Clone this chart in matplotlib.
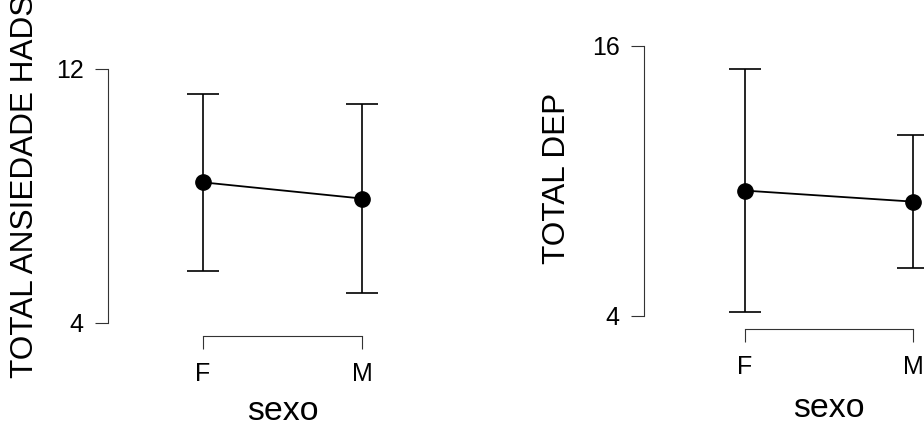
import matplotlib
matplotlib.use("Agg")
import matplotlib.pyplot as plt
from matplotlib import transforms

plt.rcParams['font.family'] = ['Liberation Sans', 'DejaVu Sans']

categories = ["F", "M"]
xlabel = "sexo"

# Panel 1: TOTAL ANSIEDADE HADS
anx_label = "TOTAL ANSIEDADE HADS"
anx_mean = [8.43, 7.92]
anx_lower = [5.65, 4.94]
anx_upper = [11.21, 10.89]
anx_yticks = [4, 12]

# Panel 2: TOTAL DEP
dep_label = "TOTAL DEP"
dep_mean = [9.56, 9.07]
dep_lower = [4.15, 6.10]
dep_upper = [14.96, 12.03]
dep_yticks = [4, 16]

W, H = 924, 424
fig = plt.figure(figsize=(W / 100, H / 100), dpi=100)
ident = transforms.IdentityTransform()


def panel(rect_px, xlim, ylim, means, lo, hi, yticks, ylab, ylab_pos, ylab_va, xlab_y):
    l, t, r, b = rect_px
    ax = fig.add_axes([l / W, (H - b) / H, (r - l) / W, (b - t) / H])
    x = list(range(len(categories)))
    yerr = [[m - a for m, a in zip(means, lo)], [c - m for m, c in zip(means, hi)]]
    ax.errorbar(x, means, yerr=yerr, fmt='none', ecolor='black', elinewidth=1.2,
                capsize=11.5, capthick=1.2, zorder=2)
    ax.plot(x, means, color='black', lw=1.3, marker='o', markersize=11,
            markerfacecolor='black', markeredgecolor='black', zorder=3)
    ax.set_xlim(*xlim)
    ax.set_ylim(*ylim)
    ax.set_xticks(x)
    ax.set_xticklabels(categories)
    ax.set_yticks(yticks)
    ax.set_yticklabels([str(v) for v in yticks])
    for s in ['top', 'right']:
        ax.spines[s].set_visible(False)
    ax.spines['left'].set_bounds(yticks[0], yticks[-1])
    ax.spines['bottom'].set_bounds(x[0], x[-1])
    for s in ['left', 'bottom']:
        ax.spines[s].set_linewidth(0.8)
        ax.spines[s].set_color('#333333')
    ax.tick_params(axis='both', length=9.5, width=0.8, color='#333333',
                   labelsize=18, labelcolor='black')
    ax.tick_params(axis='x', pad=9)
    ax.tick_params(axis='y', pad=8)
    ax.patch.set_alpha(0)

    ax.set_ylabel(ylab, fontsize=22.7, rotation=90, rotation_mode='default',
                  ha='center', va=ylab_va)
    ax.yaxis.set_label_coords(ylab_pos[0], H - ylab_pos[1], transform=ident)
    ax.set_xlabel(xlabel, fontsize=24.4, ha='center', va='baseline')
    ax.xaxis.set_label_coords(0.5, xlab_y,
                              transform=transforms.blended_transform_factory(ax.transData, ident))
    return ax


# left panel: F at px 203, M at 362; y 12 at px 69, 4 at px 323
panel((108, 30, 460, 336), (-95 / 159, 257 / 159), (4 - 13 / 31.75, 12 + 39 / 31.75),
      anx_mean, anx_lower, anx_upper, anx_yticks, anx_label, (25, 378), 'bottom', 4)

# right panel: F at px 745, M at 913; y 16 at px 45.7, 4 at px 315.7
panel((644, 20, 1000, 329), (-101 / 168, 255 / 168), (4 - 13.3 / 22.5, 16 + 25.7 / 22.5),
      dep_mean, dep_lower, dep_upper, dep_yticks, dep_label, (557, 178), 'center', 7)

fig.savefig("out.png", dpi=100)
